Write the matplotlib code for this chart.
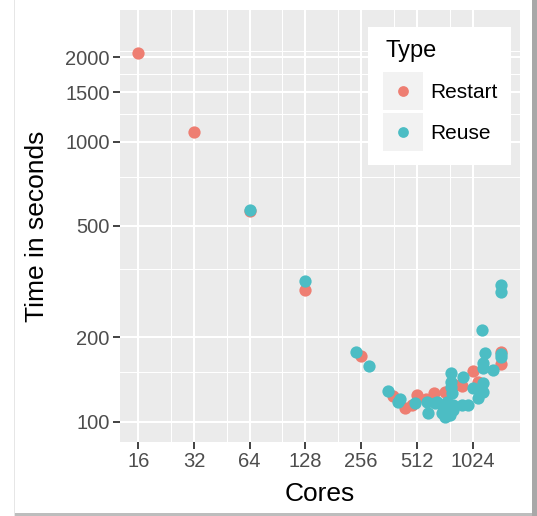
import matplotlib.pyplot as plt
from matplotlib.patches import Rectangle
from matplotlib.ticker import FixedLocator, NullFormatter

plt.rcParams['font.family'] = ['Liberation Sans', 'DejaVu Sans']

# data (cores, seconds)
restart_cores = [16, 32, 64, 128, 254, 382, 442, 479, 511, 573, 636, 722,
                 822, 902, 1024, 1100, 1450, 1450]
restart_time = [2069, 1086, 565, 295, 172, 123, 112, 114.7, 124.6, 120.5, 127, 128,
                135, 134, 152, 139, 177, 161]

reuse_cores = [64, 128, 239, 282, 358, 404, 414, 500, 578, 590, 641, 655,
               697, 710, 725, 741, 772, 779, 782, 782, 790, 800, 804, 893,
               911, 970, 1030, 1100, 1165, 1170, 1170, 1165, 1193, 1320, 1147,
               1450, 1450, 1450, 1450]
reuse_time = [570, 319, 177, 158, 128.7, 118, 120, 116.3, 118, 107.7, 116.3, 118,
              107, 113, 104.2, 118, 105.6, 133, 149, 139, 126.3, 110, 114.7, 114.7,
              144.7, 114.7, 131.5, 121.2, 137, 128, 155, 161.6, 175.5, 153, 212.6,
              174.6, 169.7, 307.6, 291]

x_breaks = [16, 32, 64, 128, 256, 512, 1024]
x_minor = [24, 48, 96, 192, 384, 768]
y_breaks = [100, 200, 500, 1000, 1500, 2000]
y_minor = [150, 350, 750, 1250, 1750, 2100]

types = ['Restart', 'Reuse']
colors = ['#EE7E72', '#4CBDC4']

W, H = 537, 516
fig = plt.figure(figsize=(W / 100, H / 100), dpi=100)

def px(x0, y0, x1, y1):
    return [x0 / W, 1 - y1 / H, (x1 - x0) / W, (y1 - y0) / H]

ax = fig.add_axes(px(120, 10, 520, 441.7))
ax.set_facecolor('#EBEBEB')
for s in ax.spines.values():
    s.set_visible(False)

ax.set_xscale('log', base=2)
ax.set_yscale('log')
ax.set_xlim(2 ** 3.672, 2 ** 10.849)
ax.set_ylim(84.8, 2951)

ax.xaxis.set_major_locator(FixedLocator(x_breaks))
ax.xaxis.set_minor_locator(FixedLocator(x_minor))
ax.yaxis.set_major_locator(FixedLocator(y_breaks))
ax.yaxis.set_minor_locator(FixedLocator(y_minor))
ax.set_xticklabels([str(v) for v in x_breaks])
ax.set_yticklabels([str(v) for v in y_breaks])
ax.xaxis.set_minor_formatter(NullFormatter())
ax.yaxis.set_minor_formatter(NullFormatter())

ax.tick_params(which='major', length=4.8, width=1.3, color='#333333',
               labelcolor='#4D4D4D', labelsize=14.5, pad=2.5)
ax.tick_params(which='minor', length=0)
ax.grid(which='major', color='white', lw=1.5)
ax.grid(which='minor', color='white', lw=0.75)
ax.set_axisbelow(True)

ax.scatter(restart_cores, restart_time, s=78, color=colors[0], lw=0, zorder=3)
ax.scatter(reuse_cores, reuse_time, s=78, color=colors[1], lw=0, zorder=3)

fig.text(320 / W, 15 / H, 'Cores', fontsize=19, ha='center', va='baseline')
fig.text(37.2 / W, 1 - 225.9 / H, 'Time in seconds', fontsize=19,
         rotation=90, ha='center', va='center')

# legend drawn by hand, ggplot style
leg = fig.add_axes(px(368, 27, 511, 165))
leg.set_xlim(0, 143)
leg.set_ylim(138, 0)
leg.set_facecolor('white')
leg.set_xticks([])
leg.set_yticks([])
for s in leg.spines.values():
    s.set_visible(False)
leg.text(17, 30, 'Type', fontsize=17, va='baseline')
for i, (t, c) in enumerate(zip(types, colors)):
    top = 44.7 + i * 41
    leg.add_patch(Rectangle((15.3, top), 39.4, 38, color='#F2F2F2', lw=0))
    leg.scatter([35], [top + 19], s=60, color=c, lw=0)
    leg.text(62, top + 26.6, t, fontsize=15, va='baseline')

# faint page frame around the screenshot
fig.add_artist(Rectangle((532 / W, 0), 5 / W, 1, color='#A8A8A8', lw=0,
                         transform=fig.transFigure))
fig.add_artist(Rectangle((14 / W, 0), 518 / W, 3 / H, color='#BDBDBD', lw=0,
                         transform=fig.transFigure))
fig.add_artist(Rectangle((13.5 / W, 0), 1 / W, 1, color='#E6E6E6', lw=0,
                         transform=fig.transFigure))

fig.savefig('out.png', dpi=100)
